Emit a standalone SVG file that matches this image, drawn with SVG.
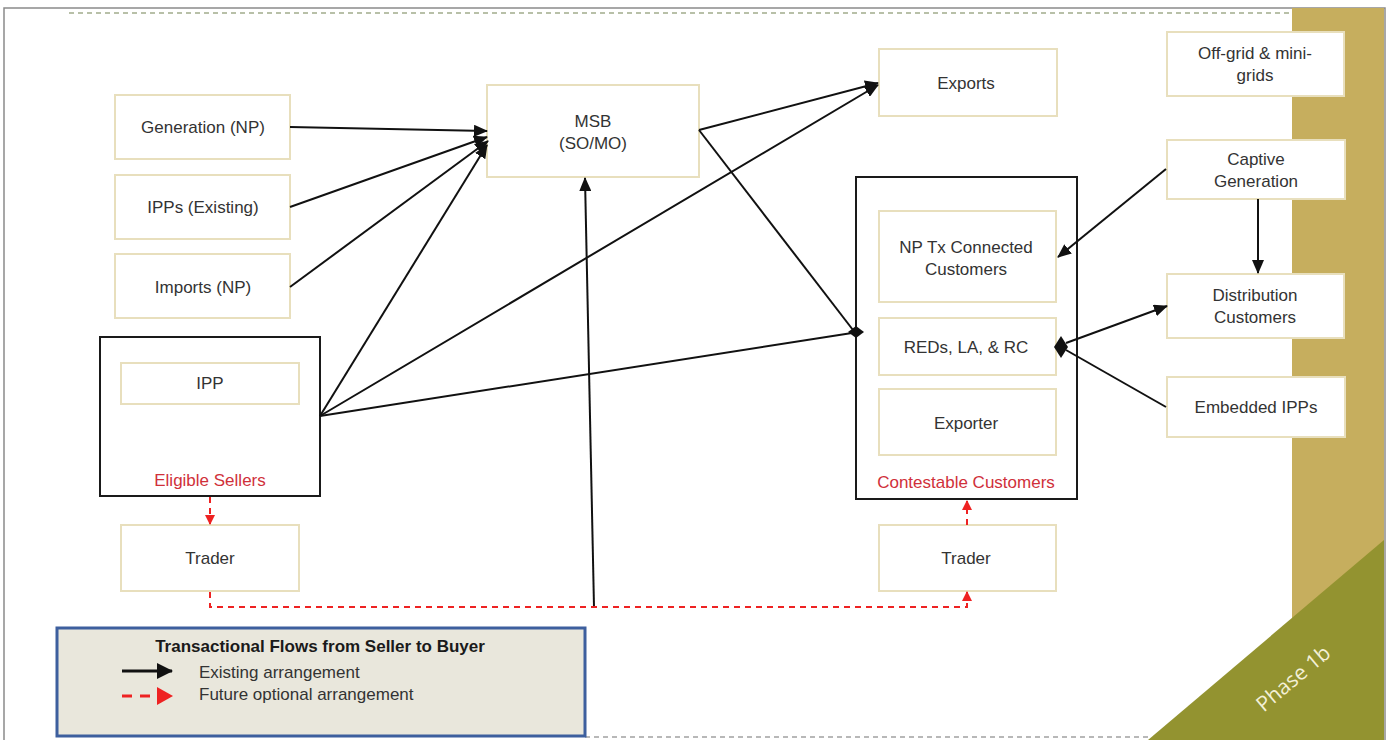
<svg xmlns="http://www.w3.org/2000/svg" width="1389" height="740" viewBox="0 0 1389 740">
<style>
.node{fill:#fff;stroke:#e8dfbd;stroke-width:2}
.grp{fill:#fff;stroke:#1a1a1a;stroke-width:2}
.t{font-family:"Liberation Sans",Arial,sans-serif;font-size:17px;fill:#333;text-anchor:middle}
.red{fill:#d0303a}
.c{fill:none;stroke:#111;stroke-width:2}
.d{fill:none;stroke:#ee2222;stroke-width:2;stroke-dasharray:6,5}
</style>
<defs>
<marker id="ah" markerUnits="userSpaceOnUse" markerWidth="14" markerHeight="12" refX="13" refY="6" orient="auto"><path d="M0,0 L14,6 L0,12 z" fill="#111"/></marker>
<marker id="rh" markerUnits="userSpaceOnUse" markerWidth="10" markerHeight="10" refX="9" refY="5" orient="auto"><path d="M0,0 L10,5 L0,10 z" fill="#ee2222"/></marker>
<marker id="lah" markerUnits="userSpaceOnUse" markerWidth="16" markerHeight="16" refX="15" refY="8" orient="auto"><path d="M0,0 L16,8 L0,16 z" fill="#111"/></marker>
<marker id="lrh" markerUnits="userSpaceOnUse" markerWidth="16" markerHeight="18" refX="15" refY="9" orient="auto"><path d="M0,0 L16,9 L0,18 z" fill="#ee2222"/></marker>
</defs>
<g id="background">
<rect x="0" y="0" width="1389" height="740" fill="#fff"/>
<rect x="4" y="8" width="1381" height="740" fill="none" stroke="#8a8a8a" stroke-width="1.5"/>
<line x1="69" y1="13" x2="1290" y2="13" stroke="#b8c0a8" stroke-width="2" stroke-dasharray="5,4"/>
<line x1="585" y1="737" x2="1150" y2="737" stroke="#b8b8b8" stroke-width="2" stroke-dasharray="5,4"/>
<rect x="1292" y="8" width="92" height="732" fill="#c6ae5e"/>
<polygon points="1148,740 1384,540 1384,740" fill="#939330"/>
<text x="1298" y="684" transform="rotate(-40 1298 684)" font-family="'Open Sans','Liberation Sans',sans-serif" font-size="21" fill="#f4f0d6" text-anchor="middle">Phase 1b</text>
</g>
<g id="eligible-sellers">
<rect class="grp" x="100" y="337" width="220" height="159"/>
<text class="t red" x="210" y="486">Eligible Sellers</text>
</g>
<g id="contestable-customers">
<rect class="grp" x="856" y="177" width="221" height="322"/>
<text class="t red" x="966" y="488">Contestable Customers</text>
</g>
<g id="generation-np"><rect class="node" x="115" y="95" width="175" height="64"/><text class="t" x="203" y="133">Generation (NP)</text></g>
<g id="ipps-existing"><rect class="node" x="115" y="175" width="175" height="64"/><text class="t" x="203" y="213">IPPs (Existing)</text></g>
<g id="imports-np"><rect class="node" x="115" y="254" width="175" height="64"/><text class="t" x="203" y="293">Imports (NP)</text></g>
<g id="ipp"><rect class="node" x="121" y="363" width="178" height="41"/><text class="t" x="210" y="389">IPP</text></g>
<g id="trader-left"><rect class="node" x="121" y="525" width="178" height="66"/><text class="t" x="210" y="564">Trader</text></g>
<g id="msb"><rect class="node" x="487" y="85" width="212" height="92"/><text class="t" x="593" y="127">MSB</text><text class="t" x="593" y="149">(SO/MO)</text></g>
<g id="exports"><rect class="node" x="879" y="49" width="178" height="67"/><text class="t" x="966" y="89">Exports</text></g>
<g id="np-tx"><rect class="node" x="879" y="211" width="177" height="91"/><text class="t" x="966" y="253">NP Tx Connected</text><text class="t" x="966" y="275">Customers</text></g>
<g id="reds"><rect class="node" x="879" y="318" width="177" height="57"/><text class="t" x="966" y="353">REDs, LA, &amp; RC</text></g>
<g id="exporter"><rect class="node" x="879" y="389" width="177" height="66"/><text class="t" x="966" y="429">Exporter</text></g>
<g id="trader-right"><rect class="node" x="879" y="525" width="177" height="66"/><text class="t" x="966" y="564">Trader</text></g>
<g id="off-grid"><rect class="node" x="1167" y="32" width="177" height="64"/><text class="t" x="1255" y="59">Off-grid &amp; mini-</text><text class="t" x="1255" y="81">grids</text></g>
<g id="captive"><rect class="node" x="1167" y="140" width="178" height="59"/><text class="t" x="1256" y="165">Captive</text><text class="t" x="1256" y="187">Generation</text></g>
<g id="distribution"><rect class="node" x="1167" y="274" width="177" height="64"/><text class="t" x="1255" y="301">Distribution</text><text class="t" x="1255" y="323">Customers</text></g>
<g id="embedded-ipps"><rect class="node" x="1167" y="377" width="178" height="60"/><text class="t" x="1256" y="413">Embedded IPPs</text></g>
<g id="connectors">
<path class="c" d="M290,127 L487,131" marker-end="url(#ah)"/>
<path class="c" d="M290,207 L487,137" marker-end="url(#ah)"/>
<path class="c" d="M290,287 L488,141" marker-end="url(#ah)"/>
<path class="c" d="M320,416 L487,145" marker-end="url(#ah)"/>
<path class="c" d="M320,416 L878,85" marker-end="url(#ah)"/>
<path class="c" d="M320,416 L852,333"/>
<path class="c" d="M699,130 L878,83" marker-end="url(#ah)"/>
<path class="c" d="M699,130 L853,330"/>
<path class="c" d="M594,607 L585,178" marker-end="url(#ah)"/>
<path class="c" d="M1166,169 L1058,257" marker-end="url(#ah)"/>
<path class="c" d="M1258,199 L1258,273" marker-end="url(#ah)"/>
<path class="c" d="M1066,343 L1167,306" marker-end="url(#ah)"/>
<path class="c" d="M1166,407 L1066,350"/>
<polygon points="848,332 856,326 864,332 856,338" fill="#111"/>
<polygon points="1054,347 1061,336 1068,347 1061,358" fill="#111"/>
<path class="d" d="M210,497 L210,524" marker-end="url(#rh)"/>
<path class="d" d="M210,592 L210,607 L967,607 L967,592" marker-end="url(#rh)"/>
<path class="d" d="M967,525 L967,501" marker-end="url(#rh)"/>
</g>
<g id="legend">
<rect x="57" y="628" width="528" height="108" fill="#e9e7dc" stroke="#3d5f9e" stroke-width="3"/>
<text class="t" x="320" y="652" font-weight="bold" style="fill:#1a1a1a">Transactional Flows from Seller to Buyer</text>
<path d="M122,671 L172,671" stroke="#111" stroke-width="3" marker-end="url(#lah)"/>
<path d="M122,696 L172,696" stroke="#ee2222" stroke-width="3" stroke-dasharray="10,8" marker-end="url(#lrh)"/>
<text class="t" x="199" y="678" style="text-anchor:start">Existing arrangement</text>
<text class="t" x="199" y="700" style="text-anchor:start">Future optional arrangement</text>
</g>
</svg>
